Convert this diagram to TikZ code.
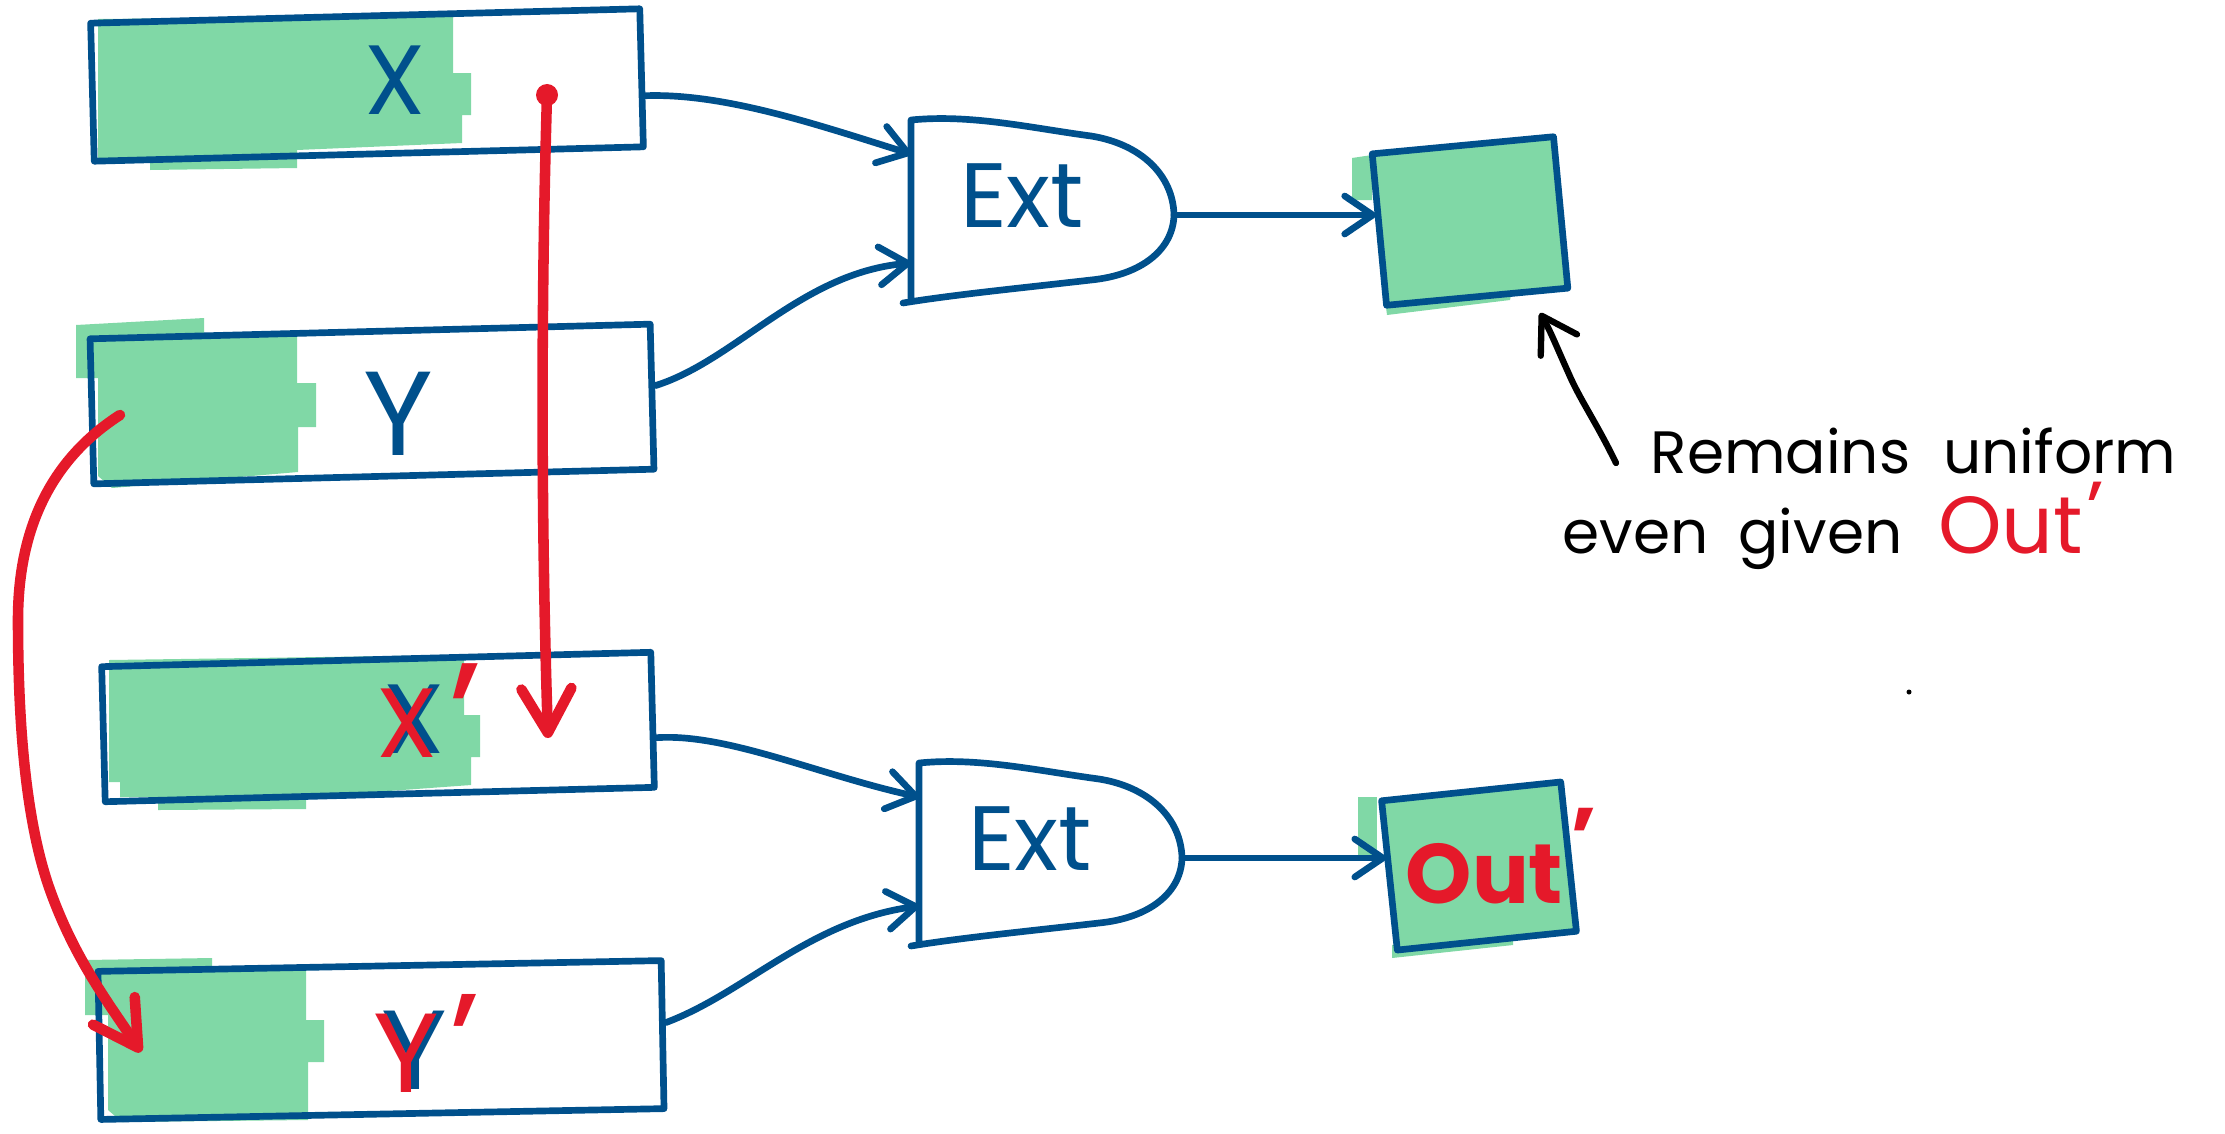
\documentclass[tikz,border=0pt]{standalone}
\usepackage{fontspec}
\setmainfont{Poppins}
\usetikzlibrary{arrows.meta,calc}
\definecolor{pblue}{HTML}{00508C}
\definecolor{pgreen}{HTML}{80D8A6}
\definecolor{pred}{HTML}{E5192A}
\begin{document}
\begin{tikzpicture}[x=0.01cm,y=-0.01cm,
  wire/.style={draw=pblue,line width=1.9pt,line cap=round,line join=round},
  conn/.style={wire,-{Straight Barb[length=2.8mm,width=3.8mm,round]}},
  regbox/.style={draw=pblue,line width=1.9pt,line join=round,inner sep=0pt,rotate=1.5},
  outbox/.style={draw=pblue,fill=pgreen,line width=1.9pt,line join=round,inner sep=0pt},
  gfill/.style={fill=pgreen},
  biglet/.style={font=\fontsize{28}{28}\selectfont,text=pblue,inner sep=0pt},
  redlet/.style={font=\fontsize{28}{28}\selectfont,text=pred,inner sep=0pt},
  gatelabel/.style={font=\fontsize{26}{26}\selectfont,text=pblue,inner sep=0pt},
  redarrow/.style={draw=pred,line width=3pt,line cap=round,-{Straight Barb[length=4.4mm,width=5mm,round]}},
  annot/.style={draw=black,line width=1.8pt,line cap=round,-{Straight Barb[length=3.4mm,width=4.2mm,round]}},
  note/.style={font=\fontsize{17}{20}\selectfont,text=black,inner sep=0pt},
  extgate/.pic={
    \draw[wire] (0,178) -- (0,0) .. controls (60,-6) and (120,8) .. (180,16)
      .. controls (230,24) and (262,55) .. (263,95)
      .. controls (262,130) and (230,155) .. (180,160)
      .. controls (110,168) and (40,175) .. (-8,183);
    \node[gatelabel] (-lbl) at (111,76) {Ext};
    \coordinate (-in1) at (0,34);
    \coordinate (-in2) at (0,143);
    \coordinate (-out) at (263,95);
  }
]
\useasboundingbox (0,0) rectangle (2225,1133);

% green fills of the registers
\fill[gfill] (98,19) -- (453,16) -- (453,73) -- (471,73) -- (471,115) -- (462,115) -- (462,143) -- (297,150) -- (297,168) -- (150,170) -- (150,158) -- (98,158) -- cycle;
\fill[gfill] (76,325) -- (204,318) -- (204,336) -- (297,336) -- (297,383) -- (316,383) -- (316,427) -- (298,427) -- (298,472) -- (112,488) -- (98,476) -- (98,378) -- (76,378) -- cycle;
\fill[gfill] (109,660) -- (464,655) -- (464,715) -- (480,715) -- (480,757) -- (471,757) -- (471,785) -- (306,797) -- (306,809) -- (158,810) -- (158,797) -- (120,797) -- (120,782) -- (109,782) -- cycle;
\fill[gfill] (85,960) -- (212,958) -- (212,970) -- (306,970) -- (306,1020) -- (324,1020) -- (324,1062) -- (308,1062) -- (308,1120) -- (122,1122) -- (108,1110) -- (108,1015) -- (85,1015) -- cycle;
% green overflow of output boxes
\fill[gfill] (1385,300) -- (1513,285) -- (1510,300) -- (1387,315) -- cycle;
\fill[gfill] (1352,158) -- (1372,155) -- (1372,200) -- (1352,200) -- cycle;
\fill[gfill] (1392,945) -- (1513,930) -- (1513,945) -- (1392,958) -- cycle;
\fill[gfill] (1358,797) -- (1377,797) -- (1377,858) -- (1358,858) -- cycle;

% registers
\node[regbox,minimum width=5.49cm,minimum height=1.38cm] (bX) at (367,85) {};
\node[regbox,minimum width=5.60cm,minimum height=1.45cm] (bY) at (372,404) {};
\node[regbox,minimum width=5.49cm,minimum height=1.35cm] (bXp) at (378,727) {};
\node[regbox,rotate=-0.4,minimum width=5.63cm,minimum height=1.48cm] (bYp) at (381,1040) {};

% letters
\node[biglet] (lX) at (395,80) {X};
\node[biglet,font=\fontsize{34}{34}\selectfont] (lY) at (398,414) {Y};
\node[biglet] (lXb) at (414,719) {X};
\node[biglet,font=\fontsize{32}{32}\selectfont] (lYb) at (414,1050) {Y};
\node[redlet,anchor=base west] (lXp) at (376,757) {X\kern3pt{\fontsize{44}{44}\selectfont\raisebox{-4pt}{'}}};
\node[redlet,font=\fontsize{32}{32}\selectfont,anchor=base west] (lYp) at (373,1092) {Y\kern3pt{\fontsize{40}{40}\selectfont'}};

% gates
\pic (g1) at (911,120) {extgate};
\pic (g2) at (919,763) {extgate};

% output boxes
\node[outbox,rotate=5.4,minimum width=1.82cm,minimum height=1.52cm] (o1) at (1470,221) {};
\node[outbox,rotate=6,minimum width=1.80cm,minimum height=1.50cm] (o2) at (1479,866) {};
\node[anchor=base west,text=pred,font=\fontsize{24}{24}\selectfont\bfseries,inner sep=0pt] (outl) at (1405,903) {Out\kern2pt\raisebox{10pt}{'}};

% connectors
\draw[conn] ($(bX.east)+(0,18)$) .. controls +(80,-3) and +(-90,-28) .. (g1-in1);
\draw[conn] ($(bY.east)+(0,-11)$) .. controls +(80,-25) and +(-110,10) .. (g1-in2);
\draw[conn] ($(bXp.east)+(0,18)$) .. controls +(70,-5) and +(-100,-22) .. (g2-in1);
\draw[conn] ($(bYp.east)+(0,-12)$) .. controls +(80,-30) and +(-110,15) .. (g2-in2);
\draw[conn] (g1-out) -- (g1-out -| o1.west);
\draw[conn] (g2-out) -- (g2-out -| o2.west);

% red arrows
\node[circle,fill=pred,minimum size=0.22cm,inner sep=0pt] (rd) at (547,95) {};
\coordinate (rvend) at (548,738);
\draw[redarrow] (rd.center) .. controls (541,300) and (541,520) .. (rvend);
\coordinate (ys) at (120,415);
\coordinate (ye) at (141,1052);
\draw[redarrow] (ys) .. controls (50,460) and (18,530) .. (18,620)
  .. controls (18,720) and (25,820) .. (50,890)
  .. controls (75,960) and (110,1005) .. (ye);

% annotation
\node[note,anchor=base west] (n1) at (1650,473) {Remains\hspace{0.55em}uniform};
\node[note,anchor=base west] (n2) at (1562,553) {even\hspace{0.5em}given\hspace{0.6em}\textcolor{pred}{\fontsize{23}{23}\selectfont Out\kern1pt\raisebox{4pt}{'}}};
\coordinate (atail) at (1616,463);
\coordinate (ahead) at (1540,313);
\draw[annot] (atail) .. controls (1595,420) and (1580,400) .. (1568,372)
  .. controls (1558,350) and (1550,330) .. (ahead);
\fill (1909,692) circle (2.5);
\end{tikzpicture}
\end{document}
